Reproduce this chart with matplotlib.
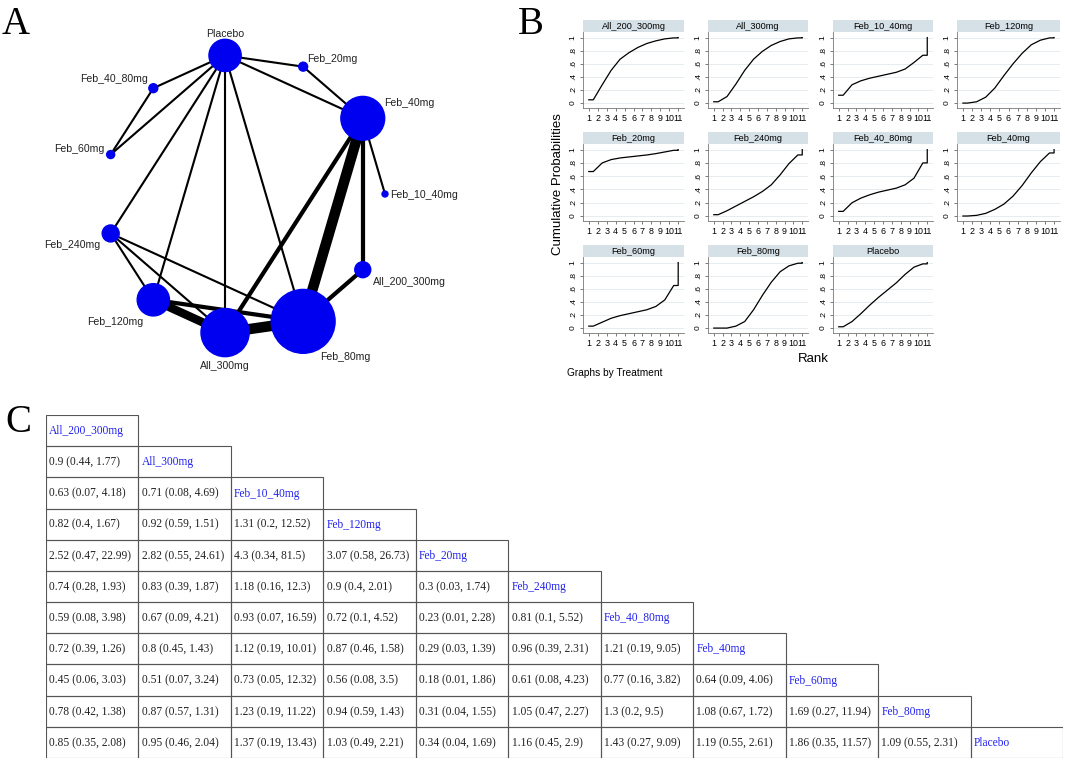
import numpy as np
import matplotlib
matplotlib.use("Agg")
import matplotlib.pyplot as plt
from matplotlib.patches import Circle, Rectangle

# ---------------- data ----------------
treatments = ["All_200_300mg", "All_300mg", "Feb_10_40mg", "Feb_120mg", "Feb_20mg",
              "Feb_240mg", "Feb_40_80mg", "Feb_40mg", "Feb_60mg", "Feb_80mg", "Placebo"]

# network (panel A): nodes in circle order, relative node weight, edges with study counts
node_order = ["Feb_10_40mg", "Feb_40mg", "Feb_20mg", "Placebo", "Feb_40_80mg", "Feb_60mg",
              "Feb_240mg", "Feb_120mg", "All_300mg", "Feb_80mg", "All_200_300mg"]
node_weight = [0.09, 4.8, 0.2, 2.6, 0.2, 0.16, 0.72, 2.6, 5.8, 10.2, 0.64]
edges = [
    ("Placebo", "Feb_20mg", 1), ("Placebo", "Feb_40mg", 1), ("Placebo", "Feb_40_80mg", 1),
    ("Placebo", "Feb_60mg", 1), ("Placebo", "Feb_240mg", 1), ("Placebo", "Feb_120mg", 1),
    ("Placebo", "All_300mg", 1), ("Placebo", "Feb_80mg", 1), ("Feb_20mg", "Feb_40mg", 1),
    ("Feb_40_80mg", "Feb_60mg", 1), ("Feb_40mg", "Feb_10_40mg", 1),
    ("Feb_40mg", "All_200_300mg", 2), ("Feb_40mg", "Feb_80mg", 5), ("Feb_40mg", "All_300mg", 2),
    ("All_200_300mg", "Feb_80mg", 2), ("Feb_240mg", "Feb_120mg", 1), ("Feb_240mg", "All_300mg", 1),
    ("Feb_240mg", "Feb_80mg", 1), ("Feb_120mg", "All_300mg", 4), ("Feb_120mg", "Feb_80mg", 2),
    ("All_300mg", "Feb_80mg", 5),
]

# cumulative ranking probabilities (panel B), ranks 1..11
cum_prob = {
    "All_200_300mg": [0.05, 0.28, 0.50, 0.67, 0.77, 0.85, 0.91, 0.95, 0.98, 0.995, 1.0],
    "All_300mg":     [0.02, 0.10, 0.29, 0.50, 0.67, 0.79, 0.88, 0.94, 0.98, 0.995, 1.0],
    "Feb_10_40mg":   [0.12, 0.28, 0.34, 0.38, 0.41, 0.44, 0.47, 0.52, 0.62, 0.73, 1.0],
    "Feb_120mg":     [0.00, 0.02, 0.09, 0.23, 0.42, 0.60, 0.76, 0.89, 0.96, 0.995, 1.0],
    "Feb_20mg":      [0.67, 0.80, 0.85, 0.875, 0.89, 0.905, 0.92, 0.94, 0.965, 0.99, 1.0],
    "Feb_240mg":     [0.02, 0.08, 0.15, 0.22, 0.29, 0.37, 0.47, 0.62, 0.79, 0.92, 1.0],
    "Feb_40_80mg":   [0.07, 0.20, 0.27, 0.32, 0.36, 0.39, 0.42, 0.47, 0.57, 0.80, 1.0],
    "Feb_40mg":      [0.00, 0.01, 0.04, 0.10, 0.18, 0.30, 0.46, 0.65, 0.82, 0.95, 1.0],
    "Feb_60mg":      [0.03, 0.09, 0.15, 0.19, 0.22, 0.25, 0.28, 0.33, 0.43, 0.65, 1.0],
    "Feb_80mg":      [0.00, 0.00, 0.03, 0.10, 0.28, 0.50, 0.70, 0.86, 0.95, 0.99, 1.0],
    "Placebo":       [0.02, 0.10, 0.22, 0.35, 0.47, 0.58, 0.69, 0.82, 0.93, 0.98, 1.0],
}
ranks = list(range(1, 12))

# league table (panel C): OR (95% CI), row treatment vs column treatment
or_est = [
    [0.9],
    [0.63, 0.71],
    [0.82, 0.92, 1.31],
    [2.52, 2.82, 4.3, 3.07],
    [0.74, 0.83, 1.18, 0.9, 0.3],
    [0.59, 0.67, 0.93, 0.72, 0.23, 0.81],
    [0.72, 0.8, 1.12, 0.87, 0.29, 0.96, 1.21],
    [0.45, 0.51, 0.73, 0.56, 0.18, 0.61, 0.77, 0.64],
    [0.78, 0.87, 1.23, 0.94, 0.31, 1.05, 1.3, 1.08, 1.69],
    [0.85, 0.95, 1.37, 1.03, 0.34, 1.16, 1.43, 1.19, 1.86, 1.09],
]
or_lo = [
    [0.44],
    [0.07, 0.08],
    [0.4, 0.59, 0.2],
    [0.47, 0.55, 0.34, 0.58],
    [0.28, 0.39, 0.16, 0.4, 0.03],
    [0.08, 0.09, 0.07, 0.1, 0.01, 0.1],
    [0.39, 0.45, 0.19, 0.46, 0.03, 0.39, 0.19],
    [0.06, 0.07, 0.05, 0.08, 0.01, 0.08, 0.16, 0.09],
    [0.42, 0.57, 0.19, 0.59, 0.04, 0.47, 0.2, 0.67, 0.27],
    [0.35, 0.46, 0.19, 0.49, 0.04, 0.45, 0.27, 0.55, 0.35, 0.55],
]
or_hi = [
    [1.77],
    [4.18, 4.69],
    [1.67, 1.51, 12.52],
    [22.99, 24.61, 81.5, 26.73],
    [1.93, 1.87, 12.3, 2.01, 1.74],
    [3.98, 4.21, 16.59, 4.52, 2.28, 5.52],
    [1.26, 1.43, 10.01, 1.58, 1.39, 2.31, 9.05],
    [3.03, 3.24, 12.32, 3.5, 1.86, 4.23, 3.82, 4.06],
    [1.38, 1.31, 11.22, 1.43, 1.55, 2.27, 9.5, 1.72, 11.94],
    [2.08, 2.04, 13.43, 2.21, 1.69, 2.9, 9.09, 2.61, 11.57, 2.31],
]

# ---------------- figure ----------------
W, H = 1065, 760
fig = plt.figure(figsize=(W / 100, H / 100), dpi=100)
sans = ["Liberation Sans", "DejaVu Sans"]
serif = ["Liberation Serif", "DejaVu Serif"]


def box(x0, y0, x1, y1):
    # pixel box (top-left origin) -> figure fraction rect
    return [x0 / W, 1 - y1 / H, (x1 - x0) / W, (y1 - y0) / H]


# panel letters
for letter, (px, py) in {"A": (2, 34), "B": (518, 34), "C": (5, 432)}.items():
    fig.text(px / W, 1 - py / H, letter, family=serif, fontsize=28, ha="left", va="baseline")

# ---------------- A: network ----------------
axA = fig.add_axes(box(65, 14, 425, 374))
R_px = 140.0
lim = 180 / R_px
axA.set_xlim(-lim, lim)
axA.set_ylim(-lim, lim)
axA.axis("off")

angles = 2 * np.pi * np.arange(len(node_order)) / len(node_order)
pos = {n: (np.cos(a), np.sin(a)) for n, a in zip(node_order, angles)}
radius = {n: 10 * np.sqrt(w) / R_px for n, w in zip(node_order, node_weight)}

for a, b, k in edges:
    (x0, y0), (x1, y1) = pos[a], pos[b]
    axA.plot([x0, x1], [y0, y1], color="black", lw=2.1 * k * 0.72,
             solid_capstyle="butt", zorder=1)

for n in node_order:
    axA.add_patch(Circle(pos[n], radius[n], color="#0000f0", zorder=2))

label_offset = {
    "Placebo": (0, 21, "center"), "Feb_20mg": (4, 8, "left"), "Feb_40mg": (21, 15, "left"),
    "Feb_10_40mg": (5, -1, "left"), "All_200_300mg": (10, -12, "left"),
    "Feb_80mg": (17, -36, "left"), "All_300mg": (0, -33, "center"),
    "Feb_120mg": (-10, -22, "right"), "Feb_240mg": (-10, -12, "right"),
    "Feb_60mg": (-6, 6, "right"), "Feb_40_80mg": (-5, 9, "right"),
}
for n in node_order:
    dx, dy, ha = label_offset[n]
    axA.annotate(n, pos[n], xytext=(dx * 0.72, dy * 0.72), textcoords="offset points",
                 ha=ha, va="center", family=sans, fontsize=7.6, color="#222222", zorder=3)

# ---------------- B: cumulative ranking curves ----------------
col_x = [(583, 684), (708, 808), (833, 933), (957, 1060)]
row_y = [(20, 32, 108), (132, 144, 221), (245, 257, 333)]
xs = [1] + [r + 0.5 for r in ranks[:-1]] + [11, 11]

for i, t in enumerate(treatments):
    r, c = divmod(i, 4)
    x0, x1 = col_x[c]
    ty, ay0, ay1 = row_y[r]
    ax = fig.add_axes(box(x0, ay0, x1, ay1))
    cp = cum_prob[t]
    ys = [cp[0]] + cp[:-1] + [cp[-2], cp[-1]]
    ax.plot(xs, ys, color="black", lw=0.9)
    ax.set_xlim(0.35, 11.65)
    ax.set_ylim(-0.075, 1.085)
    ax.set_xticks(ranks)
    ax.set_xticklabels([str(v) for v in ranks], family=sans, fontsize=6.4)
    ax.set_yticks([0, 0.2, 0.4, 0.6, 0.8, 1.0])
    ax.set_yticklabels(["0", ".2", ".4", ".6", ".8", "1"], family=sans, fontsize=6,
                       rotation=90, va="center")
    ax.tick_params(length=2.5, width=0.6, color="#666666", pad=2)
    ax.grid(axis="y", color="#e6ecef", lw=0.7)
    ax.set_axisbelow(True)
    for s in ["top", "right"]:
        ax.spines[s].set_visible(False)
    for s in ["left", "bottom"]:
        ax.spines[s].set_color("#777777")
        ax.spines[s].set_linewidth(0.6)
    # title strip
    tax = fig.add_axes(box(x0, ty, x1, ay0))
    tax.set_facecolor("#d6e1e7")
    tax.set_xticks([])
    tax.set_yticks([])
    for s in tax.spines.values():
        s.set_visible(False)
    tax.text(0.5, 0.45, t, ha="center", va="center", family=sans, fontsize=6.6,
             transform=tax.transAxes)

fig.text(558 / W, 1 - 184 / H, "Cumulative Probabilities", rotation=90, ha="center",
         va="center", family=sans, fontsize=9.5)
fig.text(813 / W, 1 - 359 / H, "Rank", ha="center", va="center", family=sans, fontsize=9.5)
fig.text(567 / W, 1 - 373 / H, "Graphs by Treatment", ha="left", va="center",
         family=sans, fontsize=7.3)

# ---------------- C: league table ----------------
axC = fig.add_axes(box(46, 415, 1063, 758))
n = len(treatments)
axC.set_xlim(0, n)
axC.set_ylim(n, 0)
axC.axis("off")
for i in range(n):
    for j in range(i + 1):
        axC.add_patch(Rectangle((j, i), 1, 1, fill=False, ec="#555555", lw=0.8))
        if i == j:
            txt, col = treatments[i], "#2222ee"
        else:
            txt = "{:g} ({:g}, {:g})".format(or_est[i - 1][j], or_lo[i - 1][j], or_hi[i - 1][j])
            col = "#222222"
        axC.text(j + 0.035, i + 0.52, txt, ha="left", va="center", family=serif,
                 fontsize=8.3, color=col)

fig.savefig("out.png", dpi=100)
